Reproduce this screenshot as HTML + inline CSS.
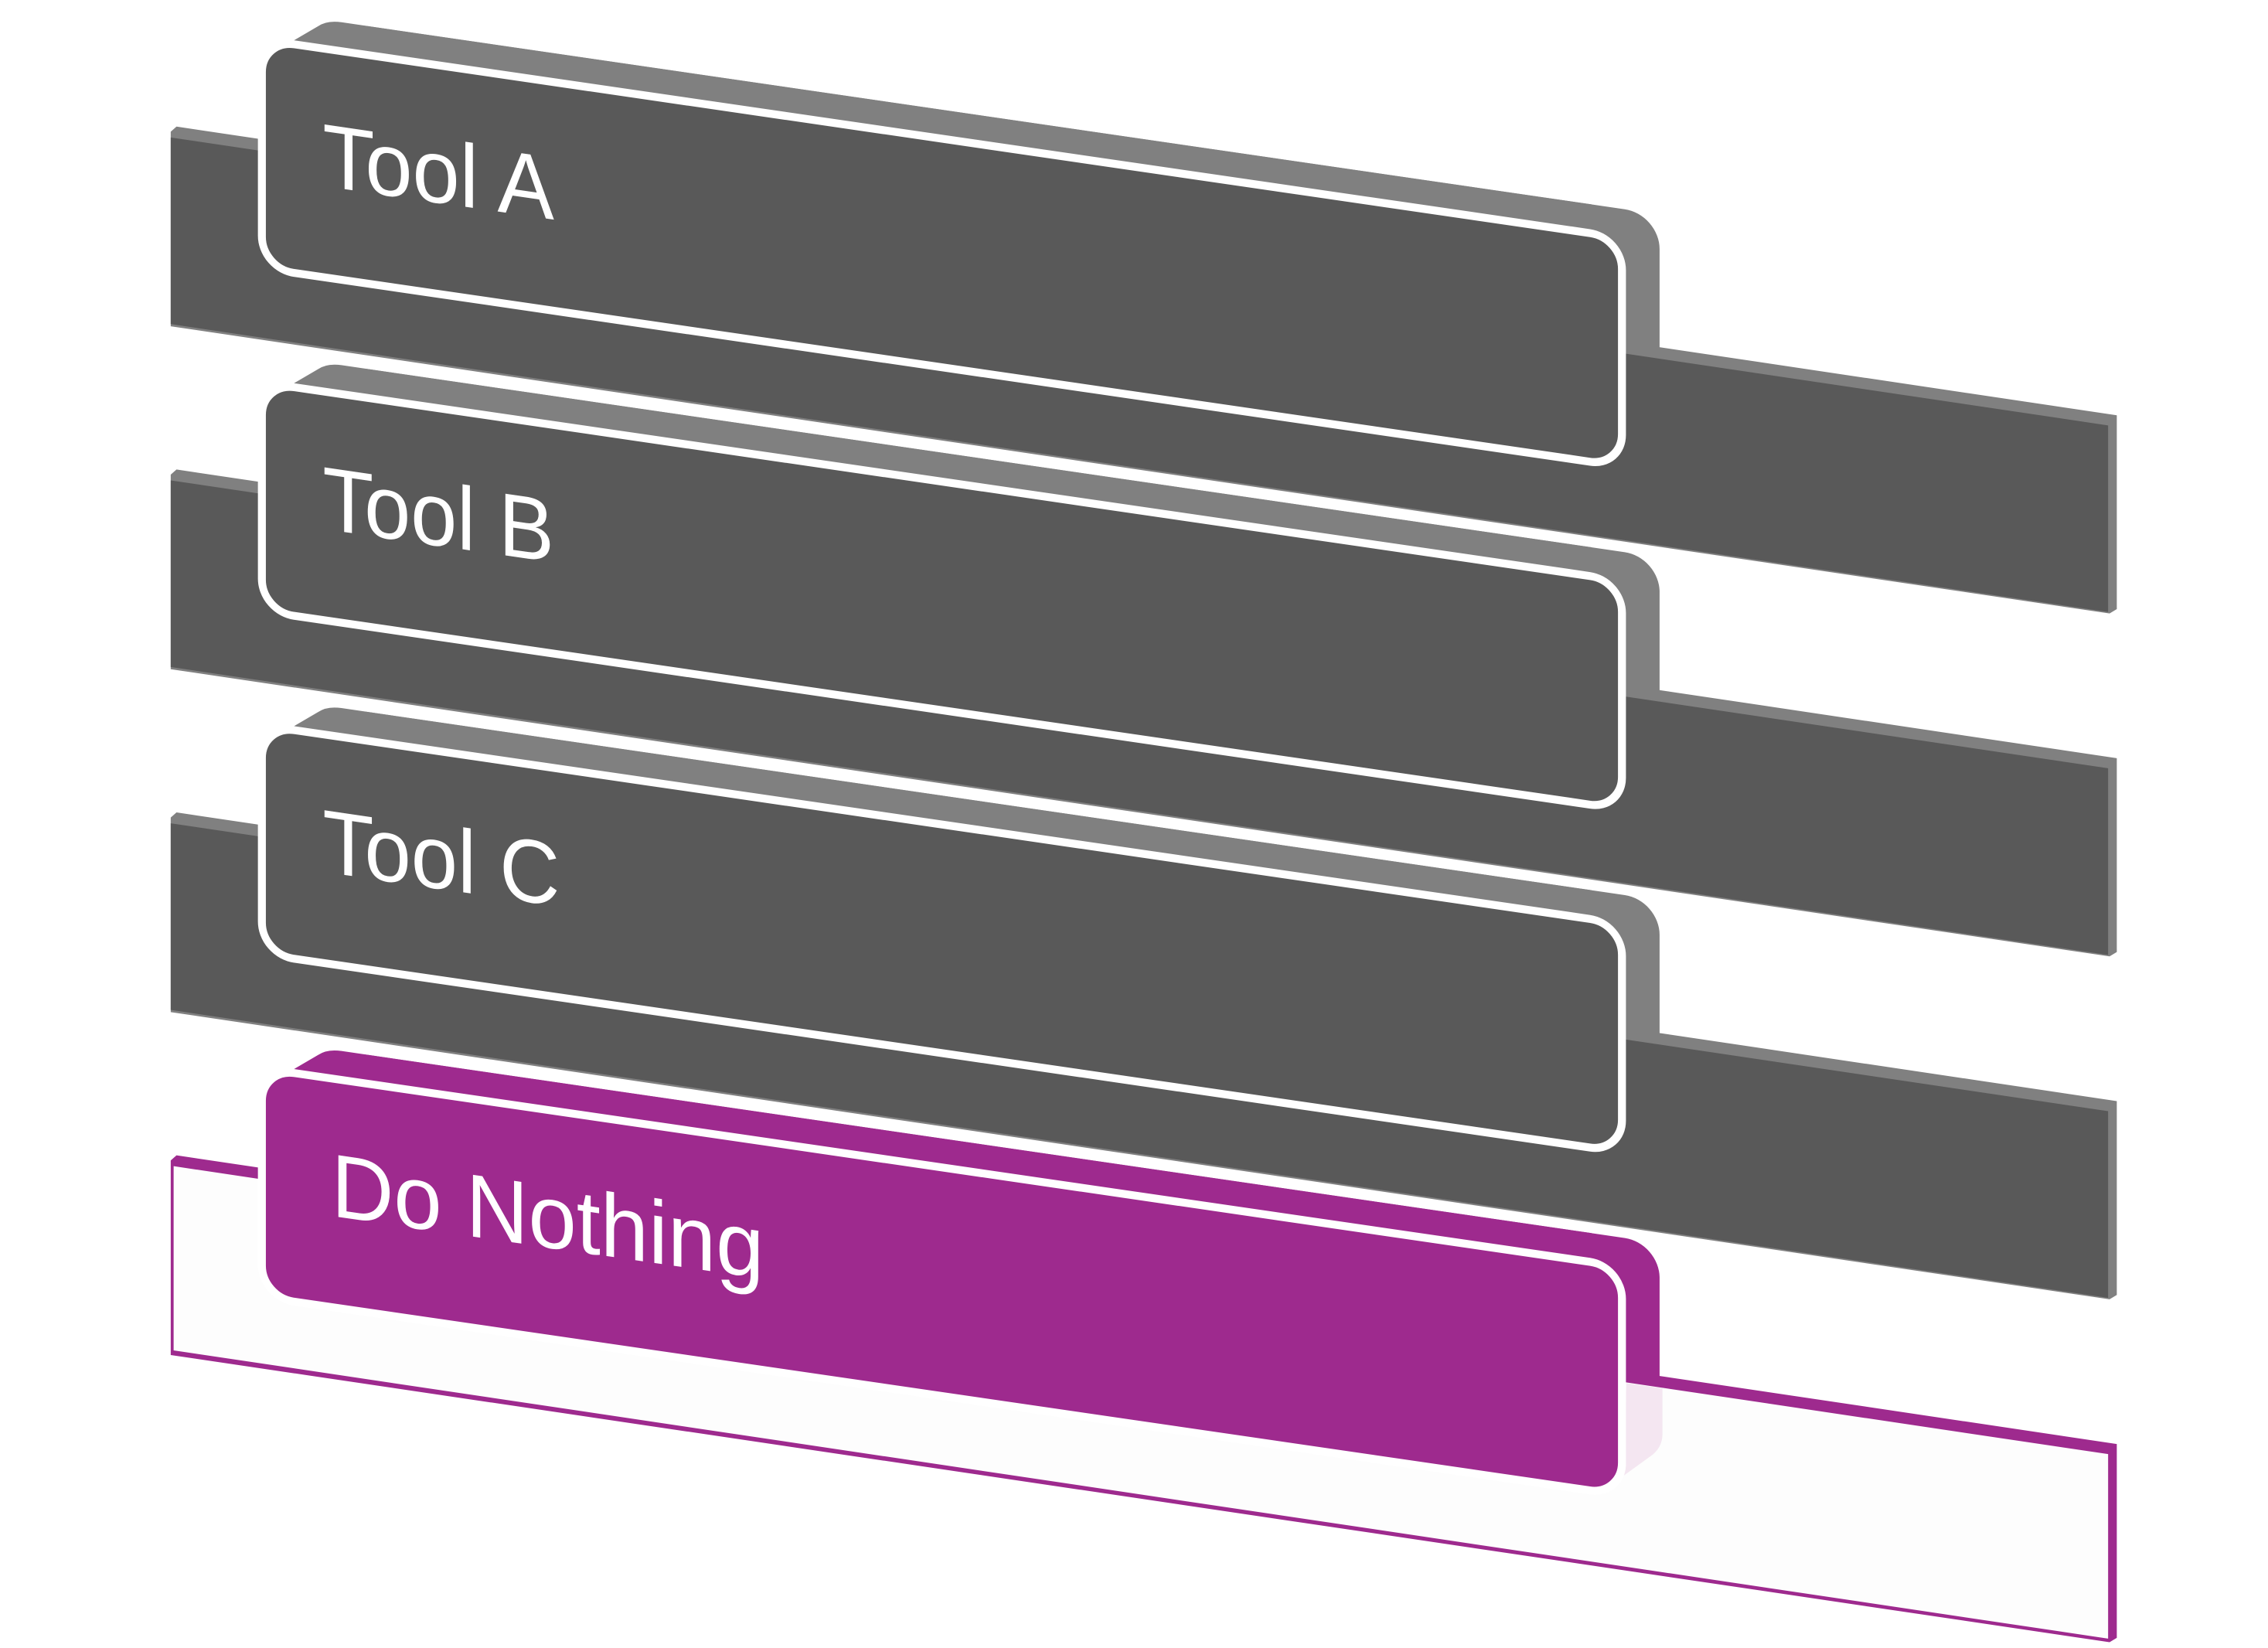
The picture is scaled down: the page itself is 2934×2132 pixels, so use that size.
<!DOCTYPE html>
<html><head><meta charset="utf-8"><style>
html,body{margin:0;padding:0;background:#fff;}
svg{display:block;}
</style></head><body>
<svg width="2934" height="2132" viewBox="0 0 1567.5 1139" preserveAspectRatio="none" xmlns="http://www.w3.org/2000/svg" font-family="Liberation Sans, DejaVu Sans, sans-serif">
<defs>
  <g id="depth">
    <g transform="matrix(1,0.1457,0,1,0,0)">
      <rect x="230" y="-19" width="917" height="159" rx="24" fill="currentColor"/>
      <path d="M194,5 L220,-14 Q226,-19 236,-19 L1100,-19 L1100,160 L194,160 Z" fill="currentColor"/>
    </g>
  </g>
  <g id="slabDark">
    <polygon points="118,91 122,87.5 1463,287 1463,421 1458,424 118,225.5" fill="#808080"/>
    <polygon points="118,95 1457,294 1457,423 118,224" fill="#595959"/>
  </g>
</defs>

<g>
  <g color="#808080"><use href="#depth"/></g>
  <use href="#slabDark"/>
  <g transform="matrix(1,0.1457,0,1,0,0)">
    <rect x="181" y="1" width="940" height="158" rx="22" fill="#595959" stroke="#fff" stroke-width="5.5"/>
    <text x="223" y="96" font-size="62" fill="#fff" textLength="160" lengthAdjust="spacingAndGlyphs">Tool A</text>
  </g>
</g>
<g transform="translate(0,237)">
  <g color="#808080"><use href="#depth"/></g>
  <use href="#slabDark"/>
  <g transform="matrix(1,0.1457,0,1,0,0)">
    <rect x="181" y="1" width="940" height="158" rx="22" fill="#595959" stroke="#fff" stroke-width="5.5"/>
    <text x="223" y="96" font-size="62" fill="#fff" textLength="160" lengthAdjust="spacingAndGlyphs">Tool B</text>
  </g>
</g>
<g transform="translate(0,474)">
  <g color="#808080"><use href="#depth"/></g>
  <use href="#slabDark"/>
  <g transform="matrix(1,0.1457,0,1,0,0)">
    <rect x="181" y="1" width="940" height="158" rx="22" fill="#595959" stroke="#fff" stroke-width="5.5"/>
    <text x="223" y="96" font-size="62" fill="#fff" textLength="164" lengthAdjust="spacingAndGlyphs">Tool C</text>
  </g>
</g>

<g transform="translate(0,711)">
  <g color="#9e2a8e"><use href="#depth"/></g>
  <polygon points="118,91 122,87.5 1463,287 1463,421 1458,424 118,225.5" fill="#9e2a8e"/>
  <polygon points="120,95 1457,294 1457,421.5 120,222.3" fill="#fdfdfd"/>
  <path d="M1124,245 L1149,248.5 L1149,280 Q1149,290 1140,296 L1122,309 Z" fill="#f4e6f1"/>
  <g transform="matrix(1,0.1457,0,1,0,0)">
    <rect x="181" y="1" width="940" height="158" rx="22" fill="#9e2a8e" stroke="#fff" stroke-width="5.5"/>
    <text x="229" y="96" font-size="62" fill="#fff" textLength="299" lengthAdjust="spacingAndGlyphs">Do Nothing</text>
  </g>
</g>
</svg>
</body></html>
